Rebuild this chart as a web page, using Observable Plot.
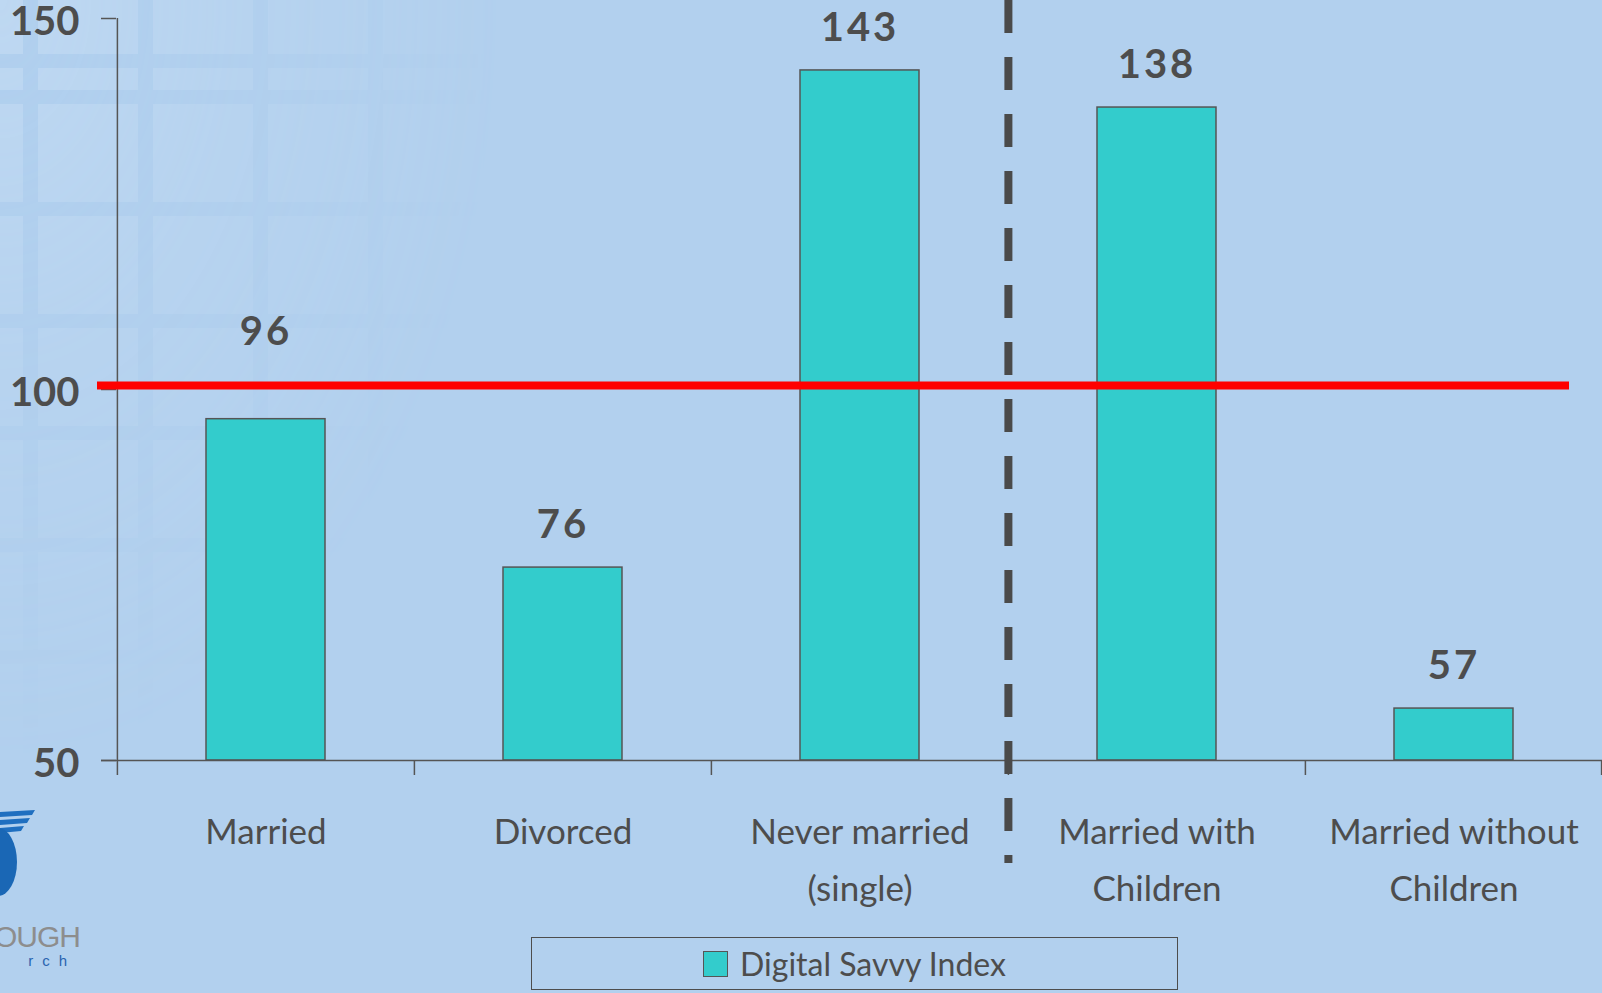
<!DOCTYPE html>
<html>
<head>
<meta charset="utf-8">
<script src="https://cdn.jsdelivr.net/npm/d3@7"></script>
<script src="https://cdn.jsdelivr.net/npm/@observablehq/plot@0.6"></script>
<style>
  html, body { margin: 0; padding: 0; width: 1602px; height: 993px; overflow: hidden; background: #b2d0ee; font-family: Lato, "Noto Sans", sans-serif; }
  #bg {
    position: absolute; left: 0; top: 0; width: 560px; height: 820px;
    background-color: #c0d9f2;
    background-image:
      repeating-linear-gradient(90deg, #b0cfee 0px, #b0cfee 15px, transparent 15px, transparent 115px),
      repeating-linear-gradient(180deg, #b0cfee 0px, #b0cfee 14px, transparent 14px, transparent 112px);
    background-position: 23px 0, 0 90px;
    -webkit-mask-image: radial-gradient(ellipse 500px 760px at 0 0, rgba(0,0,0,0.85) 0%, rgba(0,0,0,0.4) 45%, rgba(0,0,0,0) 100%);
    mask-image: radial-gradient(ellipse 500px 760px at 0 0, rgba(0,0,0,0.85) 0%, rgba(0,0,0,0.4) 45%, rgba(0,0,0,0) 100%);
  }
  #logo { position: absolute; left: 0; top: 790px; width: 120px; height: 203px; }
  #chart { position: relative; z-index: 1; }
  #chart svg { display: block; overflow: visible; }
  .vlabel text { letter-spacing: 3px; }
  #legend {
    position: relative; z-index: 1;
    margin-left: 531px; margin-top: 12px; width: 645px; height: 51px;
    border: 1.5px solid #4d4d4d; box-sizing: content-box;
    display: flex; align-items: center; justify-content: center;
    color: #4d4d4d; font-size: 32px; font-family: Lato, sans-serif;
  }
  #legend .sw { display: inline-block; width: 23px; height: 24px; background: #33cccc; border: 1.5px solid #555; margin-right: 12px; }
</style>
</head>
<body>
<div id="bg"></div>
<svg id="logo" viewBox="0 0 120 203">
  <polygon points="0,22 35,20 32,25 0,27" fill="#1f6fc0"/>
  <polygon points="0,30 30,28 27,33 0,35" fill="#1f6fc0"/>
  <polygon points="0,38 24,36 21,41 0,43" fill="#1f6fc0"/>
  <ellipse cx="-2" cy="72" rx="19" ry="34" fill="#1a67b5"/>
  <text x="80" y="157" text-anchor="end" font-family="Liberation Sans Narrow, Liberation Sans, sans-serif" font-size="30" fill="#8d8d8d" letter-spacing="-1">OUGH</text>
  <text x="76" y="176" text-anchor="end" font-family="Liberation Sans, sans-serif" font-size="15" fill="#2a64b0" letter-spacing="9">rch</text>
</svg>
<div id="chart"></div>
<div id="legend"><span class="sw"></span><span id="legendText"></span></div>
<script>
const categories = ["Married", "Divorced", "Never married\n(single)", "Married with\nChildren", "Married without\nChildren"];
const values = [96, 76, 143, 138, 57];
const yTicks = [50, 100, 150];
const baseValue = 50;
const topValue = 150;
const referenceValue = 100;
const seriesName = "Digital Savvy Index";
const dividerBefore = "Married with\nChildren";
const raisedLabel = "Married";

const data = categories.map((c, i) => ({cat: c, value: values[i]}));

const W = 1602, H = 925, ML = 116, MR = 0, MT = 18, MB = 165;
const step = (W - ML - MR) / categories.length;
const ink = "#4d4d4d";
const axisInk = "#555555";

const chart = Plot.plot({
  width: W, height: H,
  marginTop: MT, marginBottom: MB, marginLeft: ML, marginRight: MR,
  style: {background: "transparent", color: ink, fontFamily: "Lato, 'Noto Sans', sans-serif", overflow: "visible"},
  x: {domain: categories, paddingInner: 0.6, paddingOuter: 0.3, axis: null, label: null},
  y: {domain: [baseValue, topValue], axis: null, label: null},
  marks: [
    Plot.barY(data, {x: "cat", y1: baseValue, y2: "value", fill: "#33cccc", stroke: axisInk, strokeWidth: 1.5}),
    Plot.ruleY([baseValue], {stroke: axisInk, strokeWidth: 1.5, insetLeft: -15}),
    Plot.ruleX([categories[0]], {x: d => d, y1: topValue, y2: baseValue, dx: -step / 2, insetBottom: -15, stroke: axisInk, strokeWidth: 1.5}),
    Plot.ruleX(categories.slice(1), {x: d => d, y1: baseValue, y2: baseValue, dx: -step / 2, insetBottom: -15, stroke: axisInk, strokeWidth: 1.5}),
    Plot.ruleX([categories[categories.length - 1]], {x: d => d, y1: baseValue, y2: baseValue, dx: step / 2 - 1, insetBottom: -15, stroke: axisInk, strokeWidth: 1.5}),
    Plot.axisY({ticks: yTicks, tickSize: 15, tickFormat: () => "", stroke: axisInk, strokeWidth: 1.5, label: null}),
    Plot.axisY({ticks: yTicks, tickSize: 0, tickPadding: 37, dy: 4, fontSize: 40, fontWeight: "bold", fill: ink, label: null}),
    Plot.axisX({tickSize: 0, tickPadding: 42, fontSize: 35, lineHeight: 1.65, fill: ink, label: null}),
    Plot.ruleY([referenceValue], {stroke: "#ff0000", strokeWidth: 8, dy: -4, insetLeft: -19, insetRight: 33}),
    Plot.ruleX([dividerBefore], {x: d => d, dx: -step / 2, insetTop: -MT, insetBottom: -103, stroke: "#4a4a4a", strokeWidth: 8, strokeDasharray: "33,24"}),
    Plot.text(data.filter(d => d.cat !== raisedLabel), {x: "cat", y: "value", text: d => String(d.value), dy: -42, fontSize: 40, fontWeight: "bold", fill: ink, className: "vlabel"}),
    Plot.text(data.filter(d => d.cat === raisedLabel), {x: "cat", y: "value", text: d => String(d.value), dy: -87, fontSize: 40, fontWeight: "bold", fill: ink, className: "vlabel"})
  ]
});
document.getElementById("chart").appendChild(chart);
document.getElementById("legendText").textContent = seriesName;
</script>
</body>
</html>
